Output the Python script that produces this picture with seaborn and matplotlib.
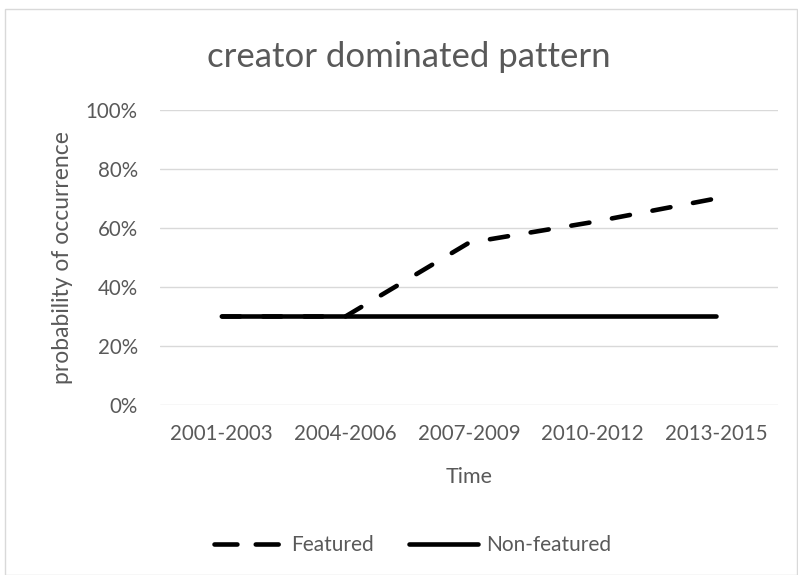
import pandas as pd
import matplotlib.pyplot as plt
import seaborn as sns
from matplotlib.patches import Rectangle
from matplotlib.ticker import PercentFormatter

# datos
periodos = ["2001-2003", "2004-2006", "2007-2009", "2010-2012", "2013-2015"]
featured = [0.30, 0.30, 0.55, 0.62, 0.70]
non_featured = [0.30, 0.30, 0.30, 0.30, 0.30]

df = pd.DataFrame({
    "Time": periodos * 2,
    "prob": featured + non_featured,
    "serie": ["Featured"] * 5 + ["Non-featured"] * 5,
})

sns.set_style("white")
plt.rcParams["font.family"] = ["Lato", "DejaVu Sans"]
gris = "#595959"

fig = plt.figure(figsize=(7.98, 5.75), dpi=100)
ax = fig.add_axes([0.2005, 0.2957, 0.7745, 0.513])

sns.lineplot(data=df, x="Time", y="prob", hue="serie", style="serie",
             palette=["black", "black"],
             dashes={"Featured": (4, 5), "Non-featured": ""},
             linewidth=3.3, sort=False, ax=ax, legend=True)
lineas = ax.get_lines()
for ln in lineas:
    ln.set_dash_capstyle("round")
    ln.set_solid_capstyle("round")
lineas[0].set_zorder(2)
lineas[1].set_zorder(3)

ax.set_ylim(0, 1.0)
ax.set_xlim(-0.5, 4.5)
ax.set_yticks([0, 0.2, 0.4, 0.6, 0.8, 1.0])
ax.yaxis.set_major_formatter(PercentFormatter(1.0, decimals=0))
ax.grid(axis="y", color="#d9d9d9", linewidth=1)
ax.set_axisbelow(True)
for s in ax.spines.values():
    s.set_visible(False)
ax.tick_params(axis="both", length=0, labelsize=14.8, labelcolor=gris)
ax.tick_params(axis="x", pad=14)
ax.tick_params(axis="y", pad=16)

ax.set_xlabel("Time", fontsize=15.5, color=gris, labelpad=16)
ax.set_ylabel("probability of occurrence", fontsize=16.5, color=gris, labelpad=9)
fig.text(0.5125, 0.901, "creator dominated pattern", ha="center", va="center",
         fontsize=25, color=gris)

handles, labels = ax.get_legend_handles_labels()
ax.get_legend().remove()
leg = fig.legend(handles, labels, loc="center", bbox_to_anchor=(0.517, 0.052),
                 ncol=2, frameon=False, fontsize=15, handlelength=3.3,
                 handletextpad=0.4, columnspacing=1.7)
for t in leg.get_texts():
    t.set_color(gris)
for h in leg.get_lines():
    h.set_linewidth(3.3)
    h.set_dash_capstyle("round")
    h.set_solid_capstyle("round")
leg.get_lines()[0].set_dashes((5, 4))

fig.patches.append(Rectangle((0.006, 0.0), 0.993, 0.985, transform=fig.transFigure,
                             fill=False, edgecolor="#d9d9d9", linewidth=1))

fig.savefig("out.png", dpi=100)
